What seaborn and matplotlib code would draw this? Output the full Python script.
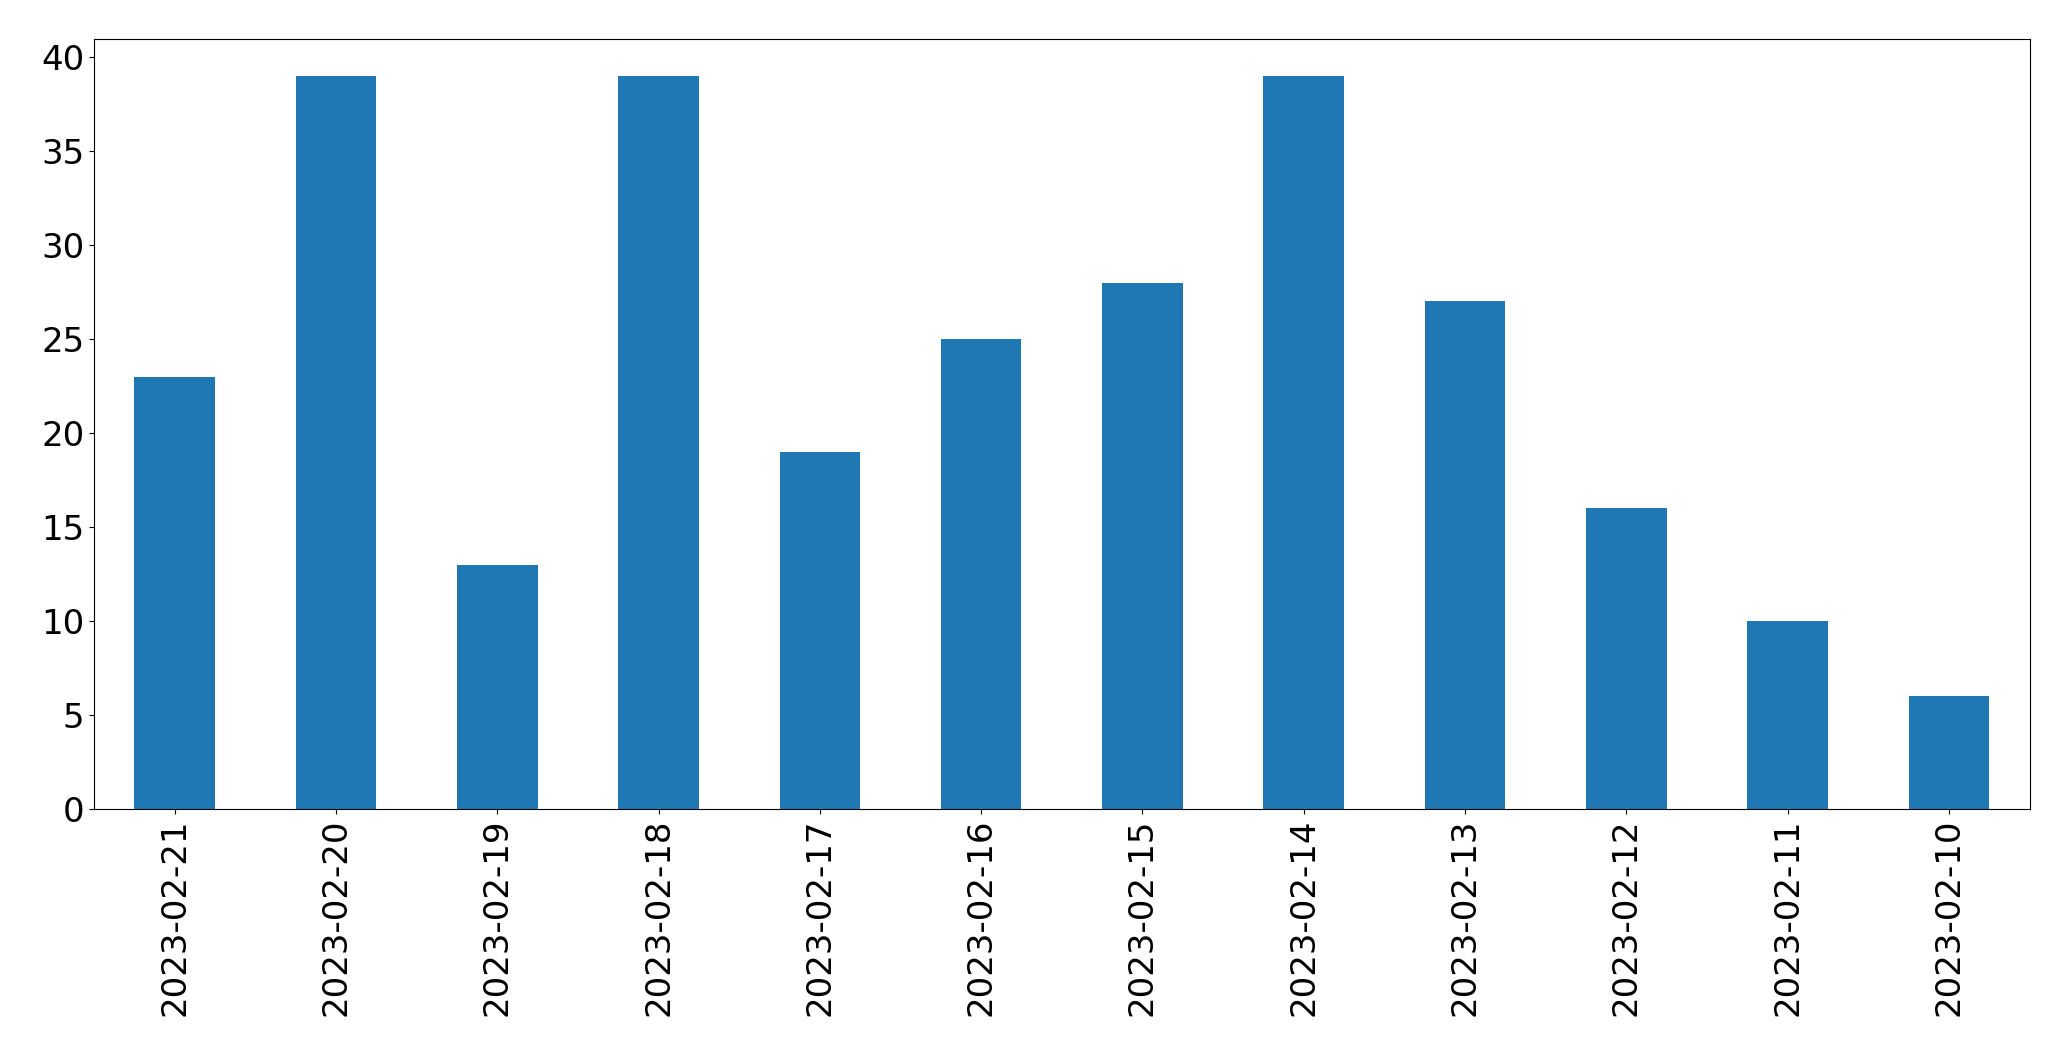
import matplotlib
matplotlib.use('Agg')
import matplotlib.pyplot as plt
import pandas as pd
import seaborn as sns

dates = ['2023-02-21', '2023-02-20', '2023-02-19', '2023-02-18', '2023-02-17', '2023-02-16',
         '2023-02-15', '2023-02-14', '2023-02-13', '2023-02-12', '2023-02-11', '2023-02-10']
counts = [23, 39, 13, 39, 19, 25, 28, 39, 27, 16, 10, 6]

df = pd.DataFrame({'date': dates, 'count': counts})

fig, ax = plt.subplots(figsize=(20.71, 10.61), dpi=100)
sns.barplot(data=df, x='date', y='count', color='#1f77b4', saturation=1, width=0.5,
            edgecolor='none', ax=ax)

ax.set_xlim(-0.5, len(dates) - 0.5)
ax.set_xlabel('')
ax.set_ylabel('')
ax.tick_params(axis='both', labelsize=24.5)
plt.setp(ax.get_xticklabels(), rotation=90)

fig.subplots_adjust(left=0.0454, right=0.980, top=0.963, bottom=0.2375)
fig.savefig('out.png', dpi=100)
